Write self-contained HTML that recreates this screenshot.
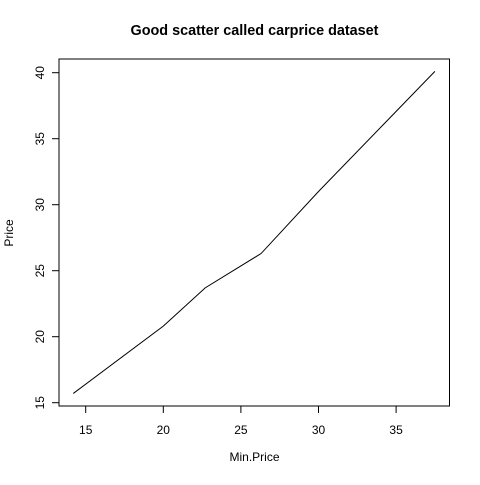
<!DOCTYPE html>
<html><head><meta charset="utf-8"><style>
html,body{margin:0;padding:0;background:#fff;}
svg text{font-family:"Liberation Sans",sans-serif;fill:#000;}
</style></head><body>
<svg id="chart" width="480" height="480" viewBox="0 0 480 480" xmlns="http://www.w3.org/2000/svg">
<text x="254.5" y="35" font-size="14.4" font-weight="bold" text-anchor="middle">Good scatter called carprice dataset</text>
<rect x="59" y="59" width="390.5" height="347" fill="none" stroke="#000" stroke-width="1"/>
<g id="xaxis"></g>
<g id="yaxis"></g>
<text x="254.5" y="461" font-size="12" text-anchor="middle">Min.Price</text>
<text transform="translate(13,233) rotate(-90)" font-size="12" text-anchor="middle">Price</text>
<polyline id="series" fill="none" stroke="#000" stroke-width="1"/>
</svg>
<script>
const minPrice = [14.2, 20.0, 22.7, 26.3, 30.0, 37.5];
const price = [15.7, 20.8, 23.7, 26.3, 31.0, 40.1];
const xTicks = [15, 20, 25, 30, 35];
const yTicks = [15, 20, 25, 30, 35, 40];

const NS = "http://www.w3.org/2000/svg";
function sx(v){ return 85.7 + (v - 15) * 15.52; }
function sy(v){ return 402.7 - (v - 15) * 13.2; }
function mk(tag, attrs, parent){
  const e = document.createElementNS(NS, tag);
  for (const k in attrs) e.setAttribute(k, attrs[k]);
  parent.appendChild(e);
  return e;
}
const xa = document.getElementById('xaxis');
const ya = document.getElementById('yaxis');
mk('line', {x1: sx(xTicks[0]), x2: sx(xTicks[xTicks.length-1]), y1: 406, y2: 406, stroke: '#000'}, xa);
xTicks.forEach(t => {
  const l = mk('line', {x1: sx(t), x2: sx(t), y1: 406, y2: 413, stroke: '#000'}, xa);
  
  
  const tx = mk('text', {x: sx(t), y: 434, 'font-size': 12, 'text-anchor': 'middle'}, xa);
  tx.textContent = t;
  
  
});
mk('line', {x1: 59, x2: 59, y1: sy(yTicks[0]), y2: sy(yTicks[yTicks.length-1]), stroke: '#000'}, ya);
yTicks.forEach(t => {
  const l = mk('line', {x1: 52, x2: 59, y1: sy(t), y2: sy(t), stroke: '#000'}, ya);
  
  
  const tx = mk('text', {transform: 'translate(44,' + sy(t) + ') rotate(-90)', 'font-size': 12, 'text-anchor': 'middle'}, ya);
  tx.textContent = t;
  
  
});
document.getElementById('series').setAttribute('points',
  minPrice.map((v, i) => sx(v) + ',' + sy(price[i])).join(' '));
</script>
</body></html>
